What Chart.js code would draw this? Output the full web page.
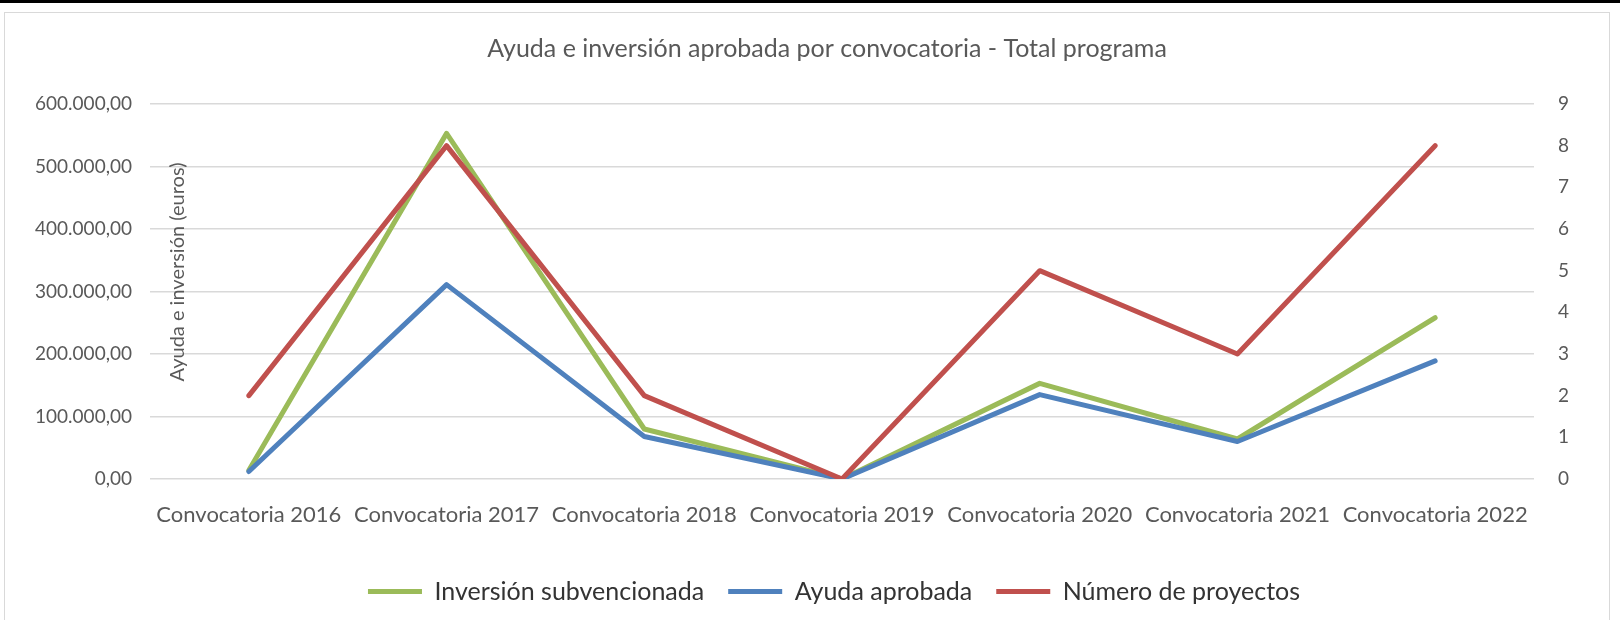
<!DOCTYPE html>
<html>
<head>
<meta charset="utf-8">
<script src="https://cdn.jsdelivr.net/npm/chart.js@4.4.1/dist/chart.umd.min.js"></script>
<style>
  html, body { margin: 0; padding: 0; background: #ffffff; }
  #wrap { position: relative; width: 1620px; height: 620px; overflow: hidden; }
  #frame { position: absolute; left: 4px; top: 12px; width: 1606px; height: 640px; border: 1.5px solid #d9d9d9; box-sizing: border-box; }
  #topbar { position: absolute; left: 0; top: 0; width: 1620px; height: 3px; background: #000; }
  canvas { position: absolute; left: 0; top: 0; }
</style>
</head>
<body>
<div id="wrap">
  <div id="topbar"></div>
  <div id="frame"></div>
  <canvas id="c" width="1620" height="620"></canvas>
</div>
<script>
const categories = ["Convocatoria 2016", "Convocatoria 2017", "Convocatoria 2018", "Convocatoria 2019", "Convocatoria 2020", "Convocatoria 2021", "Convocatoria 2022"];
const inversionSubvencionada = [14000, 553000, 80000, 0, 153000, 64000, 258000];
const ayudaAprobada = [12000, 311000, 68000, 0, 135000, 60000, 189000];
const numeroProyectos = [2, 8, 2, 0, 5, 3, 8];
const leftTicks = [0, 100000, 200000, 300000, 400000, 500000, 600000];
const rightTicks = [0, 1, 2, 3, 4, 5, 6, 7, 8, 9];
const titleText = "Ayuda e inversión aprobada por convocatoria - Total programa";
const yTitleText = "Ayuda e inversión (euros)";

const FONT = "Lato, 'Noto Sans', sans-serif";
const TXT = "#595959";
const LEGEND_TXT = "#333333";

function fmtEs(v) {
  const s = Math.round(v).toString();
  const g = s.replace(/\B(?=(\d{3})+(?!\d))/g, ".");
  return g + ",00";
}

const yTitlePlugin = {
  id: 'yTitle',
  afterLayout(chart) {
    if (chart.titleBlock) { chart.titleBlock.left += 34; }
    if (chart.legend) { chart.legend.left += 24; chart.legend.right += 24; }
  },
  afterDraw(chart) {
    const ctx = chart.ctx;
    ctx.save();
    ctx.translate(178, 272);
    ctx.rotate(-Math.PI / 2);
    ctx.font = "20px " + FONT;
    ctx.fillStyle = TXT;
    ctx.textAlign = "center";
    ctx.textBaseline = "middle";
    ctx.fillText(yTitleText, 0, 0);
    ctx.restore();
  }
};

new Chart(document.getElementById('c'), {
  type: 'line',
  data: {
    labels: categories,
    datasets: [
      { label: "Inversión subvencionada", data: inversionSubvencionada, yAxisID: 'y', borderColor: '#9BBB59', backgroundColor: '#9BBB59', borderWidth: 5, pointRadius: 0, borderCapStyle: 'round', borderJoinStyle: 'round', order: 3, tension: 0 },
      { label: "Ayuda aprobada", data: ayudaAprobada, yAxisID: 'y', borderColor: '#4F81BD', backgroundColor: '#4F81BD', borderWidth: 5, pointRadius: 0, borderCapStyle: 'round', borderJoinStyle: 'round', order: 2, tension: 0 },
      { label: "Número de proyectos", data: numeroProyectos, yAxisID: 'y1', borderColor: '#C0504D', backgroundColor: '#C0504D', borderWidth: 5, pointRadius: 0, borderCapStyle: 'round', borderJoinStyle: 'round', order: 1, tension: 0 }
    ]
  },
  options: {
    responsive: false,
    animation: false,
    devicePixelRatio: 1,
    layout: { padding: { left: 0, right: 0, top: 12, bottom: 6 } },
    plugins: {
      title: {
        display: true,
        text: titleText,
        color: TXT,
        font: { family: FONT, size: 25, weight: 'normal' },
        padding: { top: 22, bottom: 40 }
      },
      legend: {
        display: true,
        position: 'bottom',
        labels: {
          usePointStyle: true,
          pointStyle: 'line',
          pointStyleWidth: 54,
          color: LEGEND_TXT,
          font: { family: FONT, size: 25 },
          padding: 24,
          sort: (a, b) => a.datasetIndex - b.datasetIndex
        }
      },
      tooltip: { enabled: false }
    },
    scales: {
      x: {
        offset: true,
        grid: { display: false, offset: true },
        border: { display: false },
        ticks: { color: TXT, font: { family: FONT, size: 22 }, maxRotation: 0, autoSkip: false, padding: 15 },
        afterFit(s) { s.height = 76; }
      },
      y: {
        position: 'left',
        min: 0, max: 600000,
        afterBuildTicks(s) { s.ticks = leftTicks.map(v => ({ value: v })); },
        grid: { color: '#d9d9d9', lineWidth: 1.5, drawTicks: false },
        border: { display: false },
        ticks: { color: TXT, font: { family: FONT, size: 19 }, padding: 18, callback: (v) => fmtEs(v) },
        afterFit(s) { s.width = 150; }
      },
      y1: {
        position: 'right',
        min: 0, max: 9,
        afterBuildTicks(s) { s.ticks = rightTicks.map(v => ({ value: v })); },
        grid: { display: false, drawTicks: false },
        border: { display: false },
        ticks: { color: TXT, font: { family: FONT, size: 19 }, padding: 24 },
        afterFit(s) { s.width = 86; }
      }
    }
  },
  plugins: [yTitlePlugin]
});
</script>
</body>
</html>
